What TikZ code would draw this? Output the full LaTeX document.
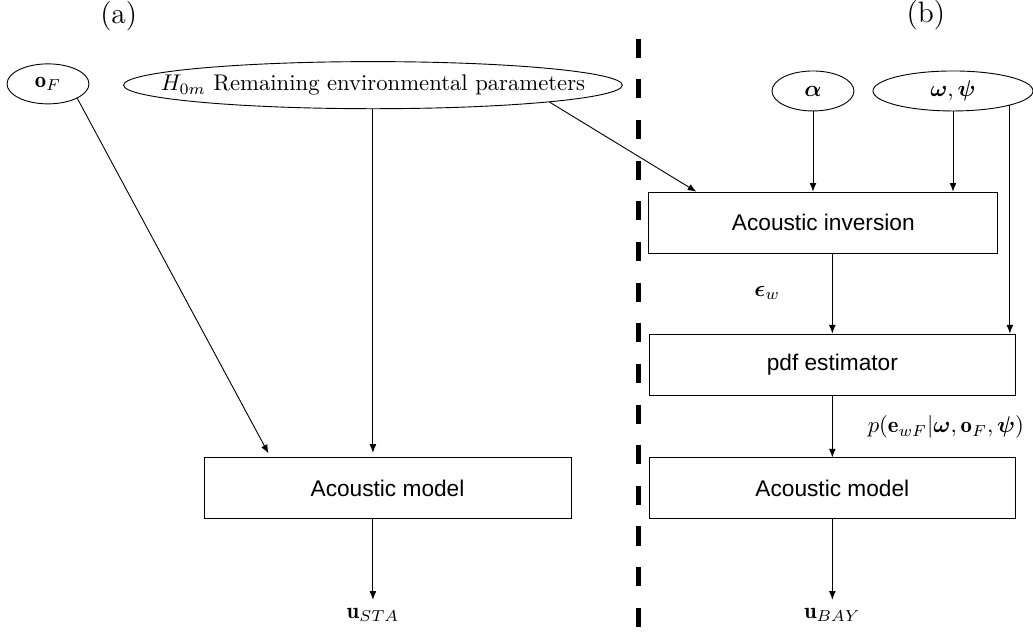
\documentclass[tikz,border=0pt]{standalone}
\usepackage{amsmath}
\usepackage{fontspec}
\newfontfamily\helv{Liberation Sans}
\usetikzlibrary{calc, arrows.meta, shapes.geometric}

\begin{document}
\begin{tikzpicture}[
    >={Latex[length=3.8pt,width=3pt]},
    param/.style={draw, ellipse, inner sep=0pt, minimum height=0.62cm},
    block/.style={draw, rectangle, minimum height=0.945cm, font=\helv}
]
    \useasboundingbox (0,0) rectangle (16.01,9.87);

    % Panel labels
    \node (lblA) at (1.84,9.62) {\fontsize{13}{15}\selectfont (a)};
    \node (lblB) at (14.35,9.64) {\fontsize{13}{15}\selectfont (b)};

    % Separator
    \draw[line width=2.2pt, dash pattern=on 0.295cm off 0.335cm] (9.9,9.27) -- (9.9,0);

    % (a) Parameters
    \node[param, minimum width=1.27cm] (oF) at (0.744,8.57) {$\mathbf{o}_F$};
    \node[param, minimum width=7.73cm, minimum height=0.73cm] (H0m) at (5.78,8.55)
        {\makebox[0pt]{$H_{0m}$ Remaining environmental parameters}};

    % (a) Model
    \node[block, minimum width=5.69cm] (amL) at (6.006,2.302) {Acoustic model};
    \coordinate (tipSTA) at (5.78,0.574);
    \node[below] (uSTA) at (tipSTA) {$\mathbf{u}_{STA}$};

    \draw[->, shorten >=2pt] (oF.south east) -- ($(amL.north west)+(1.04,0)$);
    \draw[->, shorten >=2pt] (H0m.south) -- (H0m.south |- amL.north);
    \draw[->] (amL.south -| H0m.south) -- (tipSTA);

    % (b) Parameters
    \node[param, minimum width=1.27cm] (alpha) at (12.60,8.46) {$\boldsymbol{\alpha}$};
    \node[param, minimum width=2.48cm] (omega) at (14.77,8.46) {$\boldsymbol{\omega},\boldsymbol{\psi}$};

    % (b) Chain
    \node[block, minimum width=5.41cm] (inv) at (12.76,6.42) {Acoustic inversion};
    \node[block, minimum width=5.67cm] (pdf) at (12.90,4.22) {pdf estimator};
    \node[block, minimum width=5.67cm] (amR) at (12.90,2.30) {Acoustic model};
    \coordinate (tipBAY) at (12.90,0.574);
    \node[below] (uBAY) at (tipBAY) {$\mathbf{u}_{BAY}$};

    \draw[->] (H0m.south east) -- ($(inv.north west)+(0.744,0)$);
    \draw[->] (alpha.south) -- (alpha.south |- inv.north);
    \draw[->] (omega.south) -- (omega.south |- inv.north);
    \draw[->] (omega.south east) -- (omega.south east |- pdf.north);

    \draw[->] (inv.south -| pdf.north) -- (pdf.north);
    \node (epsW) at (11.89,5.33) {$\boldsymbol{\epsilon}_w$};

    \draw[->] (pdf.south) -- (amR.north);
    \node (pdfOut) at (14.66,3.25) {$p(\mathbf{e}_{wF}|\boldsymbol{\omega},\mathbf{o}_F,\boldsymbol{\psi})$};

    \draw[->] (amR.south) -- (tipBAY);

\end{tikzpicture}
\end{document}
